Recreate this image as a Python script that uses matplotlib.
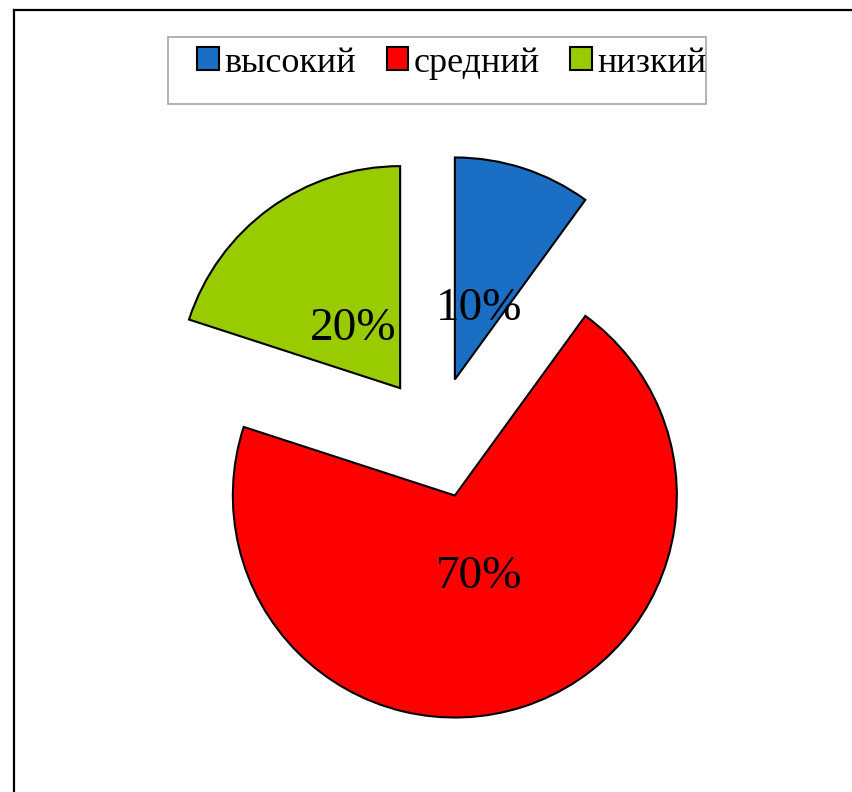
import matplotlib
matplotlib.use("Agg")
import matplotlib.pyplot as plt
from matplotlib.patches import Rectangle
from matplotlib.lines import Line2D

# data
labels = ["высокий", "средний", "низкий"]
values = [10, 70, 20]
colors = ["#1a6fc4", "#ff0000", "#99cc00"]

plt.rcParams["font.family"] = ["Liberation Serif", "DejaVu Serif"]

fig = plt.figure(figsize=(8.52, 7.92), dpi=100)
fig.patch.set_facecolor("white")
ax = fig.add_axes([0, 0, 1, 1])

# pixel-like units: 1 unit = 1 px (explode is absolute in these units)
wedges, _, autotexts = ax.pie(
    values,
    colors=colors,
    explode=[61] * len(values),
    startangle=90,
    counterclock=False,
    radius=222,
    center=(436, 354.5),
    autopct="%d%%",
    pctdistance=0.36,
    wedgeprops=dict(edgecolor="black", linewidth=1.5),
    textprops=dict(fontsize=34, color="black"),
)
for t in autotexts:
    t.set_va("center_baseline")
ax.set_xlim(0, 852)
ax.set_ylim(0, 792)
ax.set_aspect("equal")
ax.axis("off")

# legend box
fig.patches.append(Rectangle((168 / 852, 1 - 104 / 792), 538 / 852, 67 / 792,
                             transform=fig.transFigure, fill=False,
                             edgecolor="#a6a6a6", linewidth=1.2))
leg = fig.legend(wedges, labels, loc="center", ncol=3,
                 bbox_to_anchor=(452 / 852, 1 - 63 / 792),
                 frameon=False, fontsize=26,
                 handlelength=0.6, handleheight=0.6,
                 handletextpad=0.15, columnspacing=0.85, borderpad=0)

# outer frame (left and top)
fig.lines.append(Line2D([13.5 / 852, 13.5 / 852], [0, 1 - 10 / 792],
                        transform=fig.transFigure, color="black", linewidth=1.6))
fig.lines.append(Line2D([13.5 / 852, 1], [1 - 10 / 792, 1 - 10 / 792],
                        transform=fig.transFigure, color="black", linewidth=1.6))

plt.savefig("out.png", dpi=100)
